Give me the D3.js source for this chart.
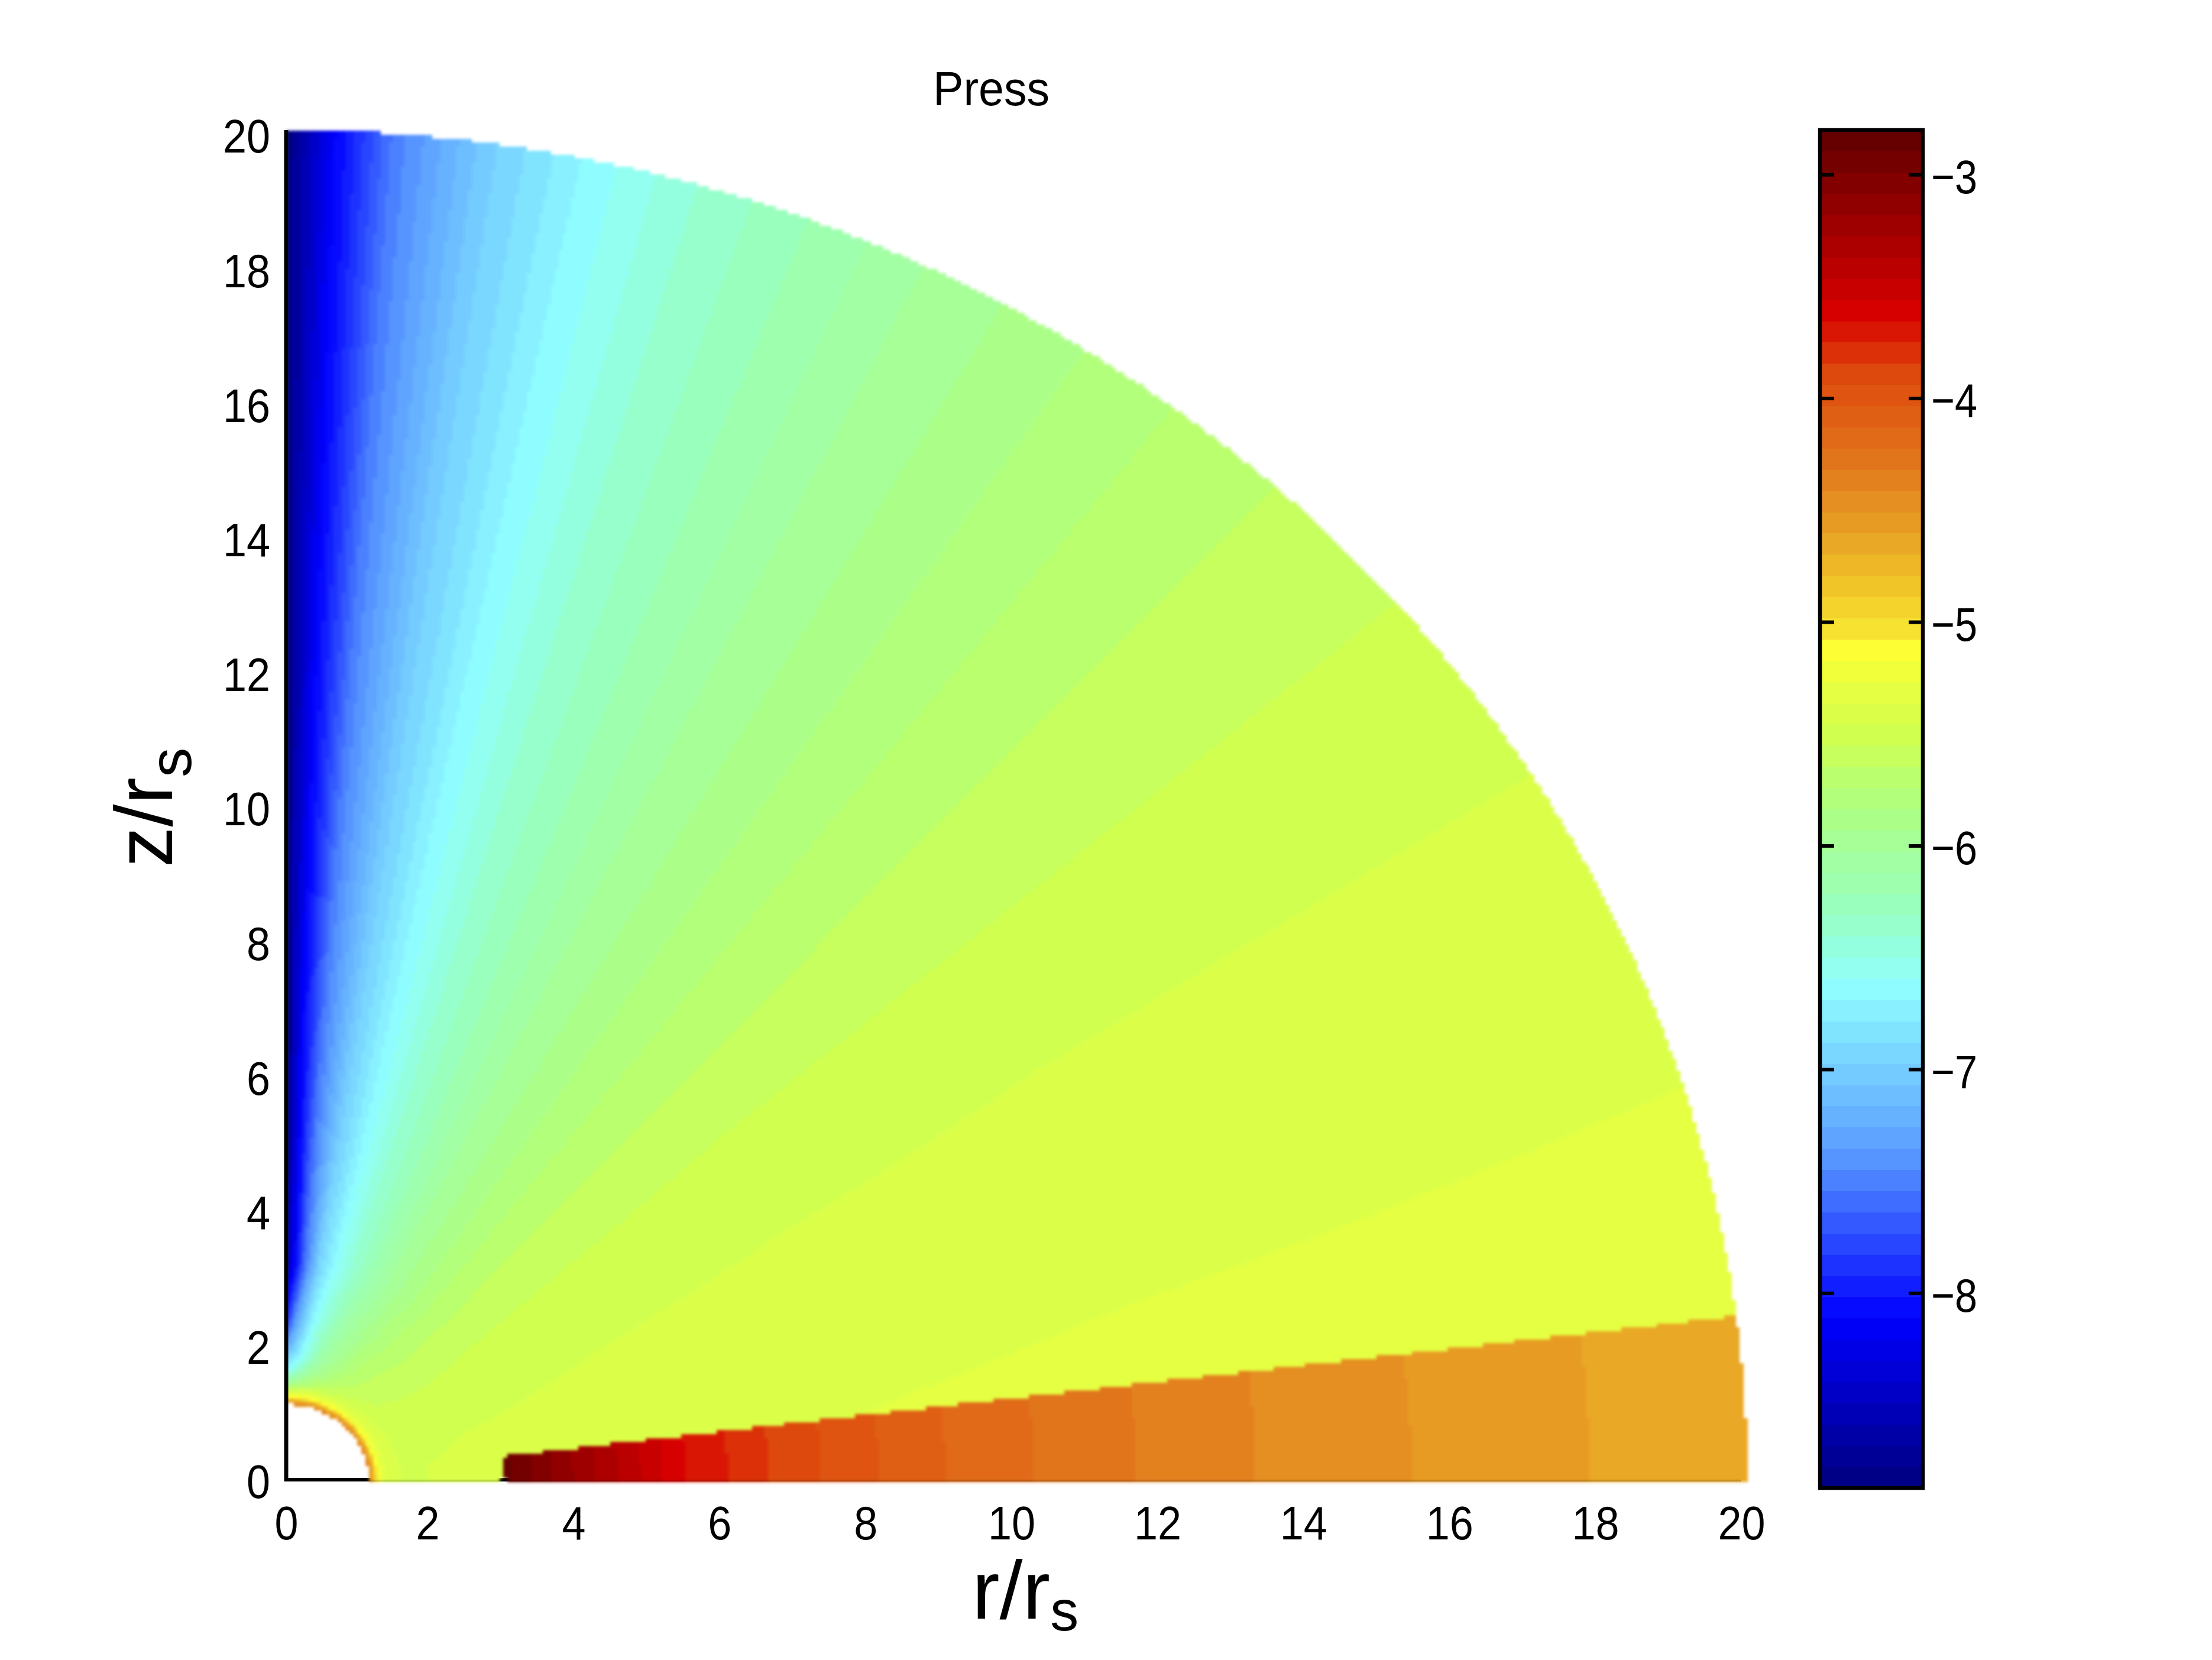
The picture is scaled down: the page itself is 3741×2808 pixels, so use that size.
<!DOCTYPE html>
<html><head><meta charset="utf-8">
<style>html,body{margin:0;padding:0;background:#fff}svg{display:block}text{font-family:"Liberation Sans",Arial,sans-serif;fill:#000}</style>
<script src="https://cdn.jsdelivr.net/npm/d3@7"></script>
</head><body><div id="c"></div>
<script>
// ---- tick labels and text
const xTicks=[0,2,4,6,8,10,12,14,16,18,20];
const yTicks=[0,2,4,6,8,10,12,14,16,18,20];
const barTicks=[-8,-7,-6,-5,-4,-3];
const titleText="Press";
// ---- colour scale
const valueRange=[-8.87,-2.80];
const nLevels=64;
const cmapPos=[0,.125,.25,.37,.424,.485,.52,.553,.59,.62,.63,.665,.70,.75,.82,.865,1];
const cmapCol=["#00007f","#0000ff","#5c9fff","#90ffff","#98ffc0","#a8ff90","#b8ff70","#d0ff50","#e8ff40","#ffff33","#f8e432","#f0c428","#e8a425","#e27a1e","#dd4a0c","#d80000","#5f0000"];
// ---- pressure field: log value on a polar table (angle above the equator, radius)
const thetaKnots=[0,7,17,25,31.6,40.6,47.4,52.6,58,64,70,74,78,82,85.7,88.2,90];
const radiusKnots=[1.14,1.19,1.24,1.32,1.45,1.65,1.86,2.4,3.2,5,7.8,12,20.1];
const p114=[-4.4,-4.4,-4.4,-4.4,-4.4,-4.4,-4.4,-4.4,-4.4,-4.4,-4.4,-4.4,-4.4,-4.4,-4.4,-4.4,-4.4];
const p119=[-4.6,-4.6,-4.6,-4.6,-4.6,-4.6,-4.6,-4.6,-4.6,-4.6,-4.6,-4.6,-4.6,-4.6,-4.6,-4.6,-4.6];
const p124=[-5.1,-5.1,-5.1,-5.1,-5.1,-5.1,-5.1,-5.1,-5.1,-5.1,-5.1,-5.1,-5.1,-5.1,-5.1,-5.1,-5.1];
const p132=[-5.33,-5.33,-5.33,-5.33,-5.33,-5.33,-5.33,-5.33,-5.33,-5.33,-5.33,-5.33,-5.34,-5.36,-5.38,-5.4,-5.4];
const p145=[-5.42,-5.42,-5.42,-5.43,-5.44,-5.46,-5.48,-5.5,-5.53,-5.57,-5.62,-5.68,-5.75,-5.82,-5.9,-5.98,-6.02];
const p165=[-5.48,-5.48,-5.5,-5.5,-5.52,-5.54,-5.57,-5.6,-5.65,-5.72,-5.82,-5.92,-6.02,-6.2,-6.4,-6.55,-6.65];
const p186=[-5.46,-5.46,-5.48,-5.5,-5.52,-5.56,-5.6,-5.64,-5.7,-5.8,-5.95,-6.08,-6.25,-6.5,-6.8,-6.95,-7.05];
const p240=[-5.44,-5.44,-5.46,-5.49,-5.52,-5.58,-5.64,-5.7,-5.78,-5.92,-6.08,-6.25,-6.45,-6.75,-7.2,-7.6,-7.95];
const p320=[-5.42,-5.42,-5.45,-5.47,-5.5,-5.57,-5.65,-5.74,-5.86,-6.0,-6.22,-6.4,-6.62,-6.95,-7.6,-8.2,-8.6];
const p500=[-5.39,-5.4,-5.43,-5.456,-5.48,-5.56,-5.645,-5.74,-5.86,-6.02,-6.25,-6.42,-6.66,-7.0,-7.55,-8.2,-8.87];
const p780=[-5.34,-5.361,-5.41,-5.44,-5.47,-5.551,-5.645,-5.74,-5.86,-6.02,-6.25,-6.42,-6.66,-7.0,-7.5,-8.15,-8.87];
const p1200=[-5.3,-5.32,-5.39,-5.43,-5.46,-5.551,-5.645,-5.74,-5.86,-6.02,-6.25,-6.42,-6.66,-7.0,-7.5,-8.15,-8.87];
const p2000=[-5.25,-5.27,-5.361,-5.41,-5.456,-5.551,-5.645,-5.74,-5.86,-6.02,-6.25,-6.42,-6.66,-7.0,-7.5,-8.15,-8.87];
const pressureRows=[p114,p119,p124,p132,p145,p165,p186,p240,p320,p500,p780,p1200,p2000];
// ---- the hot wedge on the equator
const wedgeAngle=7, wedgeInner=2.98, outerRadius=20.08, innerRadius=1.14;
const wedgeR=[2.98,4,5.49,6.07,6.63,7.34,8.14,9.06,10.28,11.69,13.33,15.46,17.91,20.1];
const wedgeV=[-2.85,-3.2,-3.654,-3.749,-3.844,-3.938,-4.033,-4.128,-4.223,-4.318,-4.413,-4.507,-4.602,-4.68];

const W=3741,H=2808;
const svg=d3.select("#c").append("svg").attr("width",W).attr("height",H).attr("viewBox",`0 0 ${W} ${H}`);
const x=d3.scaleLinear().domain([0,20]).range([484,2945]);
const y=d3.scaleLinear().domain([0,20]).range([2505,229]);
const xLabelPos=d3.scaleLinear().domain([0,2,20]).range([484,723,2945]);
const barY=d3.scaleLinear().domain(valueRange).range([2517,220]);
const cmap=d3.scaleLinear().domain(cmapPos).range(cmapCol).interpolate(d3.interpolateRgb);
const step=(valueRange[1]-valueRange[0])/nLevels;
const levelColor=k=>cmap((k+.5)/nLevels);
const levelOf=v=>Math.max(0,Math.min(nLevels-1,Math.floor((v-valueRange[0])/step)));

const defs=svg.append("defs");
defs.append("filter").attr("id","soft").attr("filterUnits","userSpaceOnUse")
  .attr("x",0).attr("y",0).attr("width",W).attr("height",H)
  .attr("color-interpolation-filters","sRGB")
  .append("feGaussianBlur").attr("stdDeviation",2.4);

const rowScales=pressureRows.map(r=>d3.scaleLinear().domain(thetaKnots).range(r));
const wedgeScale=d3.scaleLinear().domain(wedgeR).range(wedgeV);
function field(r,th){
  if(th<wedgeAngle&&r>=wedgeInner) return wedgeScale(r);
  let i=d3.bisectRight(radiusKnots,r)-1;
  i=Math.max(0,Math.min(radiusKnots.length-2,i));
  const f=Math.min(1,(r-radiusKnots[i])/(radiusKnots[i+1]-radiusKnots[i]));
  return rowScales[i](th)*(1-f)+rowScales[i+1](th)*f;
}
// axis lines sit under the field
const ink=svg.append("g").attr("stroke","#000").attr("stroke-width",6).attr("fill","none");
ink.append("line").attr("x1",x(0)).attr("x2",x(20)).attr("y1",y(0)-2).attr("y2",y(0)-2);

// field, rasterised on the source image's own coarse pixel grid, one path per colour level
const cell=6.68;
const paths=d3.range(nLevels).map(()=>d3.path());
const rows=Math.ceil((y(0)+1-y(20.1))/cell), cols=Math.ceil((x(20.1)-x(0))/cell);
for(let j=0;j<rows;j++){
  const py1=y(0)+1-j*cell, py0=py1-cell;
  const z=y.invert((py0+py1)/2);
  let runK=-1,runStart=0;
  for(let i=0;i<=cols;i++){
    let k=-1;
    if(i<cols){
      const rr=x.invert(x(0)+(i+.5)*cell);
      const r=Math.hypot(rr,z);
      const gap=j===0&&rr>2.93&&rr<3.03; // the bottom row leaves the axis line showing at the wedge foot
      if(r<=outerRadius&&r>=innerRadius&&!gap){
        const th=Math.atan2(z,rr)*180/Math.PI;
        k=levelOf(field(r,th));
      }
    }
    if(k!==runK){
      if(runK>=0) paths[runK].rect(x(0)+runStart*cell,py0,(i-runStart)*cell,cell+.5);
      runK=k;runStart=i;
    }
  }
}
svg.append("g").attr("filter","url(#soft)").append("g").attr("shape-rendering","crispEdges").selectAll("path").data(paths).join("path")
  .attr("d",d=>d.toString()).attr("fill",(d,k)=>levelColor(k)).attr("stroke","none");

// left axis line on top of the field edge
svg.append("line").attr("x1",x(0)).attr("x2",x(0)).attr("y1",220).attr("y2",y(0)+1).attr("stroke","#000").attr("stroke-width",7);

// tick labels through d3 axes (ticks themselves are hidden by the field in the source)
const fs=80;
const fit=s=>s.attr("textLength",function(){return this.textContent.length*40;}).attr("lengthAdjust","spacingAndGlyphs");
const ax=svg.append("g").attr("transform","translate(0,2575)")
  .call(d3.axisBottom(xLabelPos).tickValues(xTicks).tickSize(0).tickPadding(0).tickFormat(d3.format("d")));
ax.select(".domain").remove();
ax.selectAll("text").attr("font-size",fs).attr("dy","0.36em").attr("y",0).style("font-family",'"Liberation Sans"').call(fit);
const ay=svg.append("g").attr("transform","translate(457,0)")
  .call(d3.axisLeft(y).tickValues(yTicks).tickSize(0).tickPadding(0).tickFormat(d3.format("d")));
ay.select(".domain").remove();
ay.selectAll("text").attr("font-size",fs).attr("dy","0.36em").attr("x",0).style("font-family",'"Liberation Sans"').call(fit);

svg.append("text").attr("x",1578).attr("y",178).attr("font-size",81).attr("textLength",197).attr("lengthAdjust","spacingAndGlyphs").text(titleText);

// axis titles
const xl=svg.append("text").attr("x",1644).attr("y",2738).attr("font-size",140);
xl.append("tspan").text("r/r");
xl.append("tspan").attr("font-size",96).attr("dy",20).text("s");
const yl=svg.append("text").attr("transform","translate(291,1467) rotate(-90)").attr("font-size",137);
yl.append("tspan").text("z/r");
yl.append("tspan").attr("font-size",100).attr("dy",32).text("s");

// colour bar
const bar=svg.append("g");
bar.append("g").attr("shape-rendering","crispEdges").selectAll("rect").data(d3.range(nLevels)).join("rect")
  .attr("x",3078).attr("width",174)
  .attr("y",k=>barY(valueRange[0]+(k+1)*step))
  .attr("height",k=>barY(valueRange[0]+k*step)-barY(valueRange[0]+(k+1)*step)+.5)
  .attr("fill",k=>levelColor(k));
const bt=bar.append("g").attr("stroke","#000").attr("stroke-width",6);
barTicks.forEach(t=>{
  bt.append("line").attr("x1",3078).attr("x2",3102).attr("y1",barY(t)).attr("y2",barY(t));
  bt.append("line").attr("x1",3228).attr("x2",3252).attr("y1",barY(t)).attr("y2",barY(t));
});
bar.append("rect").attr("x",3078).attr("y",220).attr("width",174).attr("height",2297).attr("fill","none").attr("stroke","#000").attr("stroke-width",6.5);
const by=svg.append("g").attr("transform","translate(3266,2)")
  .call(d3.axisRight(barY).tickValues(barTicks).tickSize(0).tickPadding(0).tickFormat(d=>"\u2212"+Math.abs(d)));
by.select(".domain").remove();
by.selectAll("text").attr("font-size",fs).attr("dy","0.36em").attr("x",0).attr("textLength",78).attr("lengthAdjust","spacingAndGlyphs").style("font-family",'"Liberation Sans"');
</script></body></html>
